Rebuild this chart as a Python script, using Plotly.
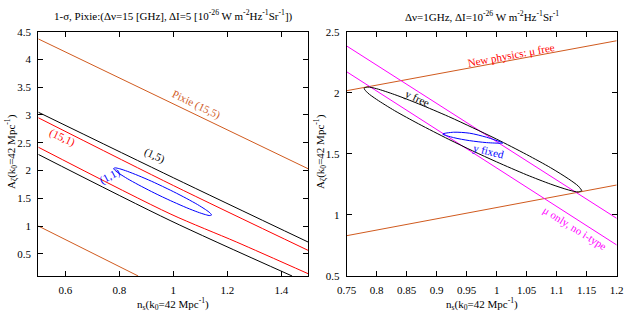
import plotly.graph_objects as go

# ---------------- data ----------------
# Left panel: Pixie-like forecasts
pixie_up_ns = [0.5, 1.5]
pixie_up_A = [4.37, 2.03]
pixie_lo_ns = [0.5, 0.87]
pixie_lo_A = [1.0, 0.1]

c15_up_ns = [0.5, 1.0, 1.5]
c15_up_A = [3.05, 1.87, 0.71]
c15_lo_ns = [0.5, 0.988, 1.44]
c15_lo_A = [2.29, 1.10, 0.1]

c151_up_ns = [0.5, 1.0, 1.5]
c151_up_A = [2.95, 1.73, 0.56]
c151_lo_ns = [0.5, 0.988, 1.235, 1.5]
c151_lo_A = [2.42, 1.22, 0.71, 0.14]

# closed ellipse (same in both panels: (1,1) left, "y free" right)
ell_ns = [0.779, 0.785, 0.80, 0.83, 0.87, 0.92, 0.96, 1.00, 1.05, 1.09, 1.12, 1.136, 1.142]
ell_A_upper = [2.037, 2.047, 2.033, 1.985, 1.909, 1.805, 1.714, 1.620, 1.494, 1.386, 1.294, 1.236, 1.199]
ell_A_lower = [2.037, 1.999, 1.945, 1.853, 1.745, 1.619, 1.524, 1.434, 1.328, 1.252, 1.204, 1.188, 1.199]

# Right panel
np_up_ns = [0.75, 1.2]
np_up_A = [2.017, 2.426]
np_lo_ns = [0.75, 1.2]
np_lo_A = [0.83, 1.245]

mu_up_ns = [0.75, 1.2]
mu_up_A = [2.383, 0.972]
mu_lo_ns = [0.75, 1.2]
mu_lo_A = [2.172, 0.754]

yfix_ns = [0.910, 0.928, 0.955, 0.983, 1.008, 1.010]
yfix_A_upper = [1.662, 1.677, 1.669, 1.636, 1.594, 1.588]
yfix_A_lower = [1.662, 1.633, 1.608, 1.592, 1.587, 1.588]

left_xticks = [0.6, 0.8, 1.0, 1.2, 1.4]
left_xtext = ["0.6", "0.8", "1", "1.2", "1.4"]
left_yticks = [0.5, 1, 1.5, 2, 2.5, 3, 3.5, 4, 4.5]
left_ytext = ["0.5", "1", "1.5", "2", "2.5", "3", "3.5", "4", "4.5"]
right_xticks = [0.75, 0.8, 0.85, 0.9, 0.95, 1.0, 1.05, 1.1, 1.15, 1.2]
right_xtext = ["0.75", "0.8", "0.85", "0.9", "0.95", "1", "1.05", "1.1", "1.15", "1.2"]
right_yticks = [0.5, 1, 1.5, 2, 2.5]
right_ytext = ["0.5", "1", "1.5", "2", "2.5"]

# ---------------- styling ----------------
FONT = "Liberation Serif"
ORANGE = "#d05a1e"
RED = "#ff0000"
BLUE = "#0000ff"
MAG = "#ff00ff"
BLACK = "#000000"
W, H = 629, 314


def closed(xs, up, lo):
    return xs + xs[::-1], up + lo[::-1]


fig = go.Figure()


def line(x, y, color, ax="", shape="spline"):
    fig.add_trace(go.Scatter(
        x=x, y=y, mode="lines", xaxis="x" + ax, yaxis="y" + ax,
        line=dict(color=color, width=1, shape=shape, smoothing=0.8),
        hoverinfo="skip", showlegend=False))


# left panel
line(pixie_up_ns, pixie_up_A, ORANGE)
line(pixie_lo_ns, pixie_lo_A, ORANGE)
line(c15_up_ns, c15_up_A, BLACK)
line(c15_lo_ns, c15_lo_A, BLACK)
line(c151_up_ns, c151_up_A, RED)
line(c151_lo_ns, c151_lo_A, RED)
ex, ey = closed(ell_ns, ell_A_upper, ell_A_lower)
line(ex, ey, BLUE)

# right panel
line(np_up_ns, np_up_A, ORANGE, "2")
line(np_lo_ns, np_lo_A, ORANGE, "2")
line(mu_up_ns, mu_up_A, MAG, "2")
line(mu_lo_ns, mu_lo_A, MAG, "2")
line(ex, ey, BLACK, "2")
fx, fy = closed(yfix_ns, yfix_A_upper, yfix_A_lower)
line(fx, fy, BLUE, "2")


def axis(domain, rng, tv, tt, anchor):
    return dict(domain=domain, range=rng, tickvals=tv, ticktext=tt,
                anchor=anchor, showline=True, linecolor="black", linewidth=1,
                mirror="allticks", ticks="inside", ticklen=5, tickcolor="black",
                tickwidth=1, showgrid=False, zeroline=False, automargin=False,
                tickfont=dict(family=FONT, size=11, color="black"),
                ticklabelstandoff=4)


xd1 = [38.3 / W, 308.3 / W]
xd2 = [346.7 / W, 616.7 / W]
yd = [(H - 276) / H, (H - 31.7) / H]

fig.update_layout(
    template="none",
    width=W, height=H, autosize=False,
    margin=dict(l=0, r=0, t=0, b=0, pad=0),
    paper_bgcolor="white", plot_bgcolor="white",
    font=dict(family=FONT, size=11, color="black"),
    xaxis=axis(xd1, [0.5, 1.5], left_xticks, left_xtext, "y"),
    yaxis=axis(yd, [0.1, 4.5], left_yticks, left_ytext, "x"),
    xaxis2=axis(xd2, [0.75, 1.2], right_xticks, right_xtext, "y2"),
    yaxis2=axis(yd, [0.5, 2.5], right_yticks, right_ytext, "x2"),
)

ann = []


def txt(x, y, s, color="black", angle=0, xref="x", yref="y", size=11):
    ann.append(dict(x=x, y=y, xref=xref, yref=yref, text=s, showarrow=False,
                    textangle=angle, font=dict(family=FONT, size=size, color=color),
                    xanchor="center", yanchor="middle"))


# in-plot labels
txt(1.083, 3.18, "Pixie (15,5)", ORANGE, 25.7)
txt(0.588, 2.60, "(15,1)", RED, 25)
txt(0.930, 2.27, "(1,5)", BLACK, 25)
txt(0.762, 1.90, "(1,1)", BLUE, -28)

txt(1.0235, 2.309, "New physics: μ free", RED, -10.5, "x2", "y2")
txt(0.8677, 1.961, "y free", BLACK, 25, "x2", "y2")
txt(0.986, 1.521, "y fixed", BLUE, 14, "x2", "y2")
txt(1.1305, 0.897, "μ only, no i-type", MAG, 32, "x2", "y2")

# titles
txt(173.3 / W, (H - 16) / H,
    "1-σ, Pixie:(Δν=15 [GHz], ΔI=5 [10<sup>-26</sup> W m<sup>-2</sup>Hz<sup>-1</sup>Sr<sup>-1</sup>])",
    xref="paper", yref="paper")
txt(481.7 / W, (H - 16) / H,
    "Δν=1GHz, ΔI=10<sup>-26</sup> W m<sup>-2</sup>Hz<sup>-1</sup>Sr<sup>-1</sup>",
    xref="paper", yref="paper")

# axis titles
xlab = "n<sub>s</sub>(k<sub>0</sub>=42 Mpc<sup>-1</sup>)"
ylab = "A<sub>ζ</sub>(k<sub>0</sub>=42 Mpc<sup>-1</sup>)"
txt(173.3 / W, (H - 304) / H, xlab, xref="paper", yref="paper")
txt(481.7 / W, (H - 304) / H, xlab, xref="paper", yref="paper")
txt(11 / W, (H - 152) / H, ylab, angle=-90, xref="paper", yref="paper")
txt(320 / W, (H - 152) / H, ylab, angle=-90, xref="paper", yref="paper")

fig.update_layout(annotations=ann)
fig.write_html(
    "out.html",
    config={"displayModeBar": False},
    post_script="document.body.style.margin='0px';document.body.style.padding='0px';"
                "document.documentElement.style.overflow='hidden';",
)
